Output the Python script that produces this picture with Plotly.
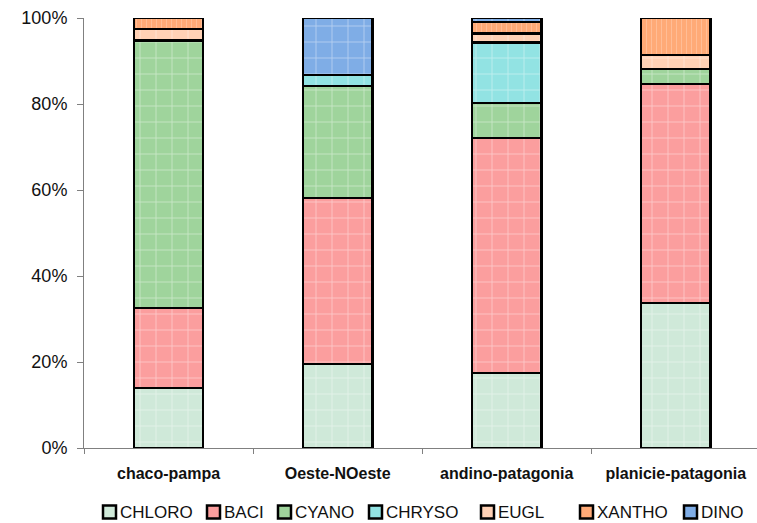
import plotly.graph_objects as go

regions = ["chaco-pampa", "Oeste-NOeste", "andino-patagonia", "planicie-patagonia"]

chloro = [14.0, 19.5, 17.4, 33.7]
baci = [18.6, 38.6, 54.7, 51.0]
cyano = [62.2, 26.1, 8.1, 3.4]
chryso = [0.0, 2.5, 14.1, 0.0]
eugl = [2.6, 0.0, 2.1, 3.3]
xantho = [2.6, 0.0, 2.7, 8.6]
dino = [0.0, 13.3, 0.9, 0.0]

groups = ["CHLORO", "BACI", "CYANO", "CHRYSO", "EUGL", "XANTHO", "DINO"]
series = [chloro, baci, cyano, chryso, eugl, xantho, dino]
fills = ["#cfe9d9", "#fb9e9e", "#9fd49c", "#92e3e3", "#ffd1b5", "#ffaa77", "#7fade6"]
shapes = ["+", "+", "+", "+", "+", "|", "+"]

y_ticks = [0, 20, 40, 60, 80, 100]
y_labels = [f"{v}%" for v in y_ticks]

# layout geometry (pixels)
W, H = 757, 523
ML, MR, MT, MB = 84, 0, 18, 75
PW, PH = W - ML - MR, H - MT - MB

def px_x(px):
    return (px - ML) / PW

def px_y(py):
    return (H - MB - py) / PH

FONT = "Liberation Sans, Arial, sans-serif"

fig = go.Figure()
for name, vals, col, shp in zip(groups, series, fills, shapes):
    fig.add_trace(go.Bar(
        name=name,
        x=regions,
        y=vals,
        width=0.41,
        showlegend=False,
        marker=dict(
            color=col,
            line=dict(color="black", width=2.5),
            pattern=dict(shape=shp, fgcolor="white", fgopacity=0.45,
                         size=5 if shp == "|" else 16, solidity=0.1),
        ),
    ))

# legend row below the plot: swatch + label per group
legend_left = [103, 207, 278, 369, 481, 580, 684]
box = 13
y_mid = 512
for name, col, lx in zip(groups, fills, legend_left):
    fig.add_shape(
        type="rect", xref="paper", yref="paper",
        x0=px_x(lx), x1=px_x(lx + box),
        y0=px_y(y_mid + box / 2), y1=px_y(y_mid - box / 2),
        fillcolor=col, line=dict(color="black", width=2.5),
    )
    fig.add_annotation(
        xref="paper", yref="paper", x=px_x(lx + box + 2), y=px_y(y_mid),
        xanchor="left", yanchor="middle", text=name, showarrow=False,
        font=dict(size=17, family=FONT, color="#111111"),
    )

fig.update_layout(
    barmode="stack",
    width=W, height=H,
    margin=dict(l=ML, r=MR, t=MT, b=MB),
    paper_bgcolor="white", plot_bgcolor="white",
    font=dict(family=FONT, color="black"),
    showlegend=False,
)
fig.update_xaxes(
    range=[-0.5, 3.48],
    showline=True, linecolor="#808080", linewidth=1,
    ticks="outside", tickson="boundaries", ticklen=5, tickcolor="#808080",
    tickfont=dict(size=16, family=FONT, color="#111111"),
    tickprefix="<b>", ticksuffix="</b>",
    ticklabelstandoff=11,
    showgrid=False, zeroline=False,
)
fig.update_yaxes(
    range=[0, 100], tickmode="array", tickvals=y_ticks, ticktext=y_labels,
    showline=True, linecolor="#808080", linewidth=1,
    ticks="outside", ticklen=6, tickcolor="#808080",
    tickfont=dict(size=18, family=FONT, color="#111111"),
    ticklabelstandoff=6,
    showgrid=False, zeroline=False,
)

fig.write_html("out.html")
